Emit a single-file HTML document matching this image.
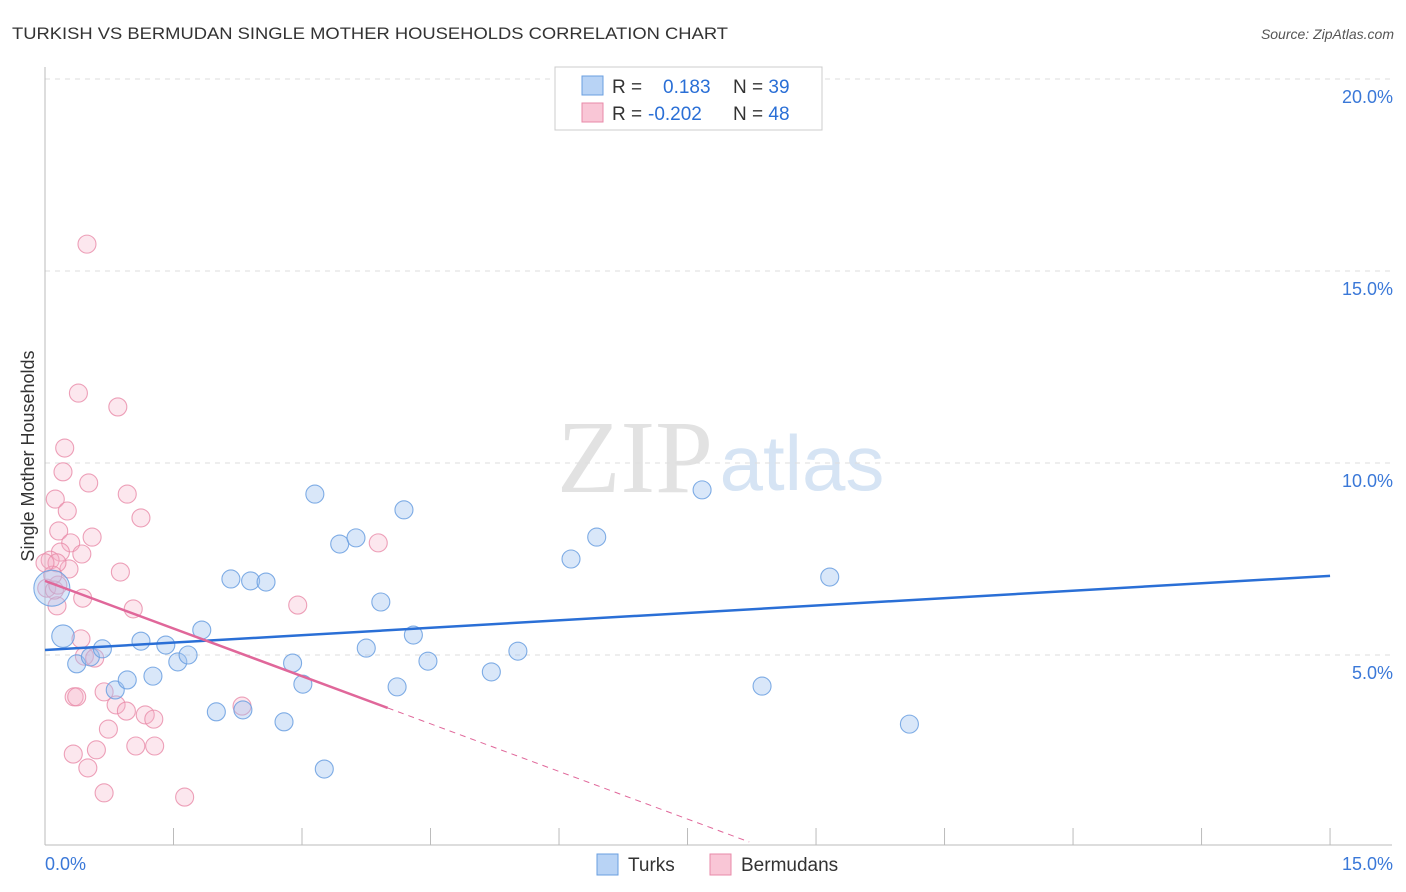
<!DOCTYPE html>
<html><head><meta charset="utf-8"><style>
body{margin:0;background:#fff;font-family:"Liberation Sans",sans-serif;}
svg{display:block}
</style></head><body>
<svg id="c" width="1406" height="892" xmlns="http://www.w3.org/2000/svg">
<text x="12" y="39" font-size="17" fill="#333" textLength="716" lengthAdjust="spacingAndGlyphs">TURKISH VS BERMUDAN SINGLE MOTHER HOUSEHOLDS CORRELATION CHART</text>
<text x="1394" y="39" font-size="14" fill="#555" font-style="italic" text-anchor="end">Source: ZipAtlas.com</text>
<text transform="translate(34,456) rotate(-90)" font-size="18" fill="#333" text-anchor="middle">Single Mother Households</text>
<g>
<text x="635" y="492" font-size="104" font-family="Liberation Serif,serif" fill="#e2e2e2" text-anchor="middle">ZIP</text>
<text x="802" y="490" font-size="78" fill="#d6e4f4" text-anchor="middle">atlas</text>
</g>
<g id="grid"></g>
<g id="axes"></g>
<g id="pts"></g>
<g id="trend"></g>
<g>
<rect x="555" y="67" width="267" height="63" fill="#fff" stroke="#ccc"/>
<rect x="582" y="76" width="21" height="19" fill="#b8d3f5" stroke="#6a9fe0"/>
<rect x="582" y="103" width="21" height="19" fill="#f9c6d6" stroke="#e88aa8"/>
<text x="612" y="93" font-size="19" fill="#333">R = <tspan x="663" fill="#2a6fd6">0.183</tspan><tspan x="733" fill="#333">N = </tspan><tspan fill="#2a6fd6">39</tspan></text>
<text x="612" y="120" font-size="19" fill="#333">R = <tspan x="648" fill="#2a6fd6">-0.202</tspan><tspan x="733" fill="#333">N = </tspan><tspan fill="#2a6fd6">48</tspan></text>
</g>
<g>
<rect x="597" y="854" width="21" height="21" fill="#b8d3f5" stroke="#6a9fe0"/>
<text x="628" y="871" font-size="19" fill="#333">Turks</text>
<rect x="710" y="854" width="21" height="21" fill="#f9c6d6" stroke="#e88aa8"/>
<text x="741" y="871" font-size="19" fill="#333">Bermudans</text>
</g>
</svg>
<script>
const xTicks=[0,1.5,3,4.5,6,7.5,9,10.5,12,13.5,15];
const yTicks=[5,10,15,20];
const yTickLabels=["5.0%","10.0%","15.0%","20.0%"];
const turksX=[0.08,0.21,0.37,0.53,0.67,0.82,0.96,1.12,1.26,1.41,1.55,1.67,1.83,2.00,2.17,2.31,2.40,2.58,2.79,2.89,3.01,3.15,3.26,3.44,3.63,3.75,3.92,4.11,4.19,4.30,4.47,5.21,5.52,6.14,6.44,7.67,8.37,9.16,10.09];
const turksY=[6.74,5.49,4.77,4.95,5.16,4.09,4.35,5.36,4.45,5.26,4.82,5.00,5.65,3.52,6.98,3.57,6.93,6.90,3.26,4.79,4.24,9.19,2.03,7.89,8.05,5.18,6.38,4.17,8.78,5.52,4.84,4.56,5.10,7.50,8.07,9.30,4.19,7.03,3.20];
const turksSize=[2,1.25,1,1,1,1,1,1,1,1,1,1,1,1,1,1,1,1,1,1,1,1,1,1,1,1,1,1,1,1,1,1,1,1,1,1,1,1,1];
const bermX=[0.49,0.39,0.85,0.23,0.21,0.51,0.96,0.12,0.26,1.12,0.16,0.55,0.30,0.18,0.43,0.88,0.28,0.06,0.14,0.02,0.44,0.14,1.03,2.95,3.89,0.42,0.46,0.58,0.69,0.34,0.37,0.83,0.95,1.17,1.27,0.74,0.33,0.60,1.06,1.28,0.50,0.69,1.63,2.30,0.11,0.15,0.09,0.00];
const bermY=[15.70,11.82,11.46,10.39,9.77,9.48,9.19,9.06,8.75,8.57,8.23,8.07,7.92,7.68,7.63,7.16,7.24,7.47,7.40,6.74,6.48,6.28,6.20,6.30,7.92,5.42,4.97,4.92,4.04,3.91,3.91,3.70,3.54,3.44,3.33,3.07,2.42,2.53,2.63,2.63,2.06,1.41,1.30,3.67,6.69,6.82,7.08,7.40];
const turksTrend=[5.13,7.06];
const bermTrend=[6.93,-0.827];
const bermSolidEnd=4.0, bermDashEnd=8.22;

const NS="http://www.w3.org/2000/svg";
const X=v=>45+v*85.67, Y=v=>847-v*38.4;
function mk(tag,attrs,parent){const e=document.createElementNS(NS,tag);for(const k in attrs)e.setAttribute(k,attrs[k]);document.getElementById(parent).appendChild(e);return e;}
yTicks.forEach((t,i)=>{
 const l=mk('line',{x1:45,x2:1392,y1:Y(t),y2:Y(t),stroke:'#ddd','stroke-dasharray':'5,5'},'grid');
 
 
 const tx=mk('text',{x:1393,y:Y(t)+24,'font-size':18,fill:'#3a78d8','text-anchor':'end'},'grid');
 tx.textContent=yTickLabels[i];
 
 
});
const ya=mk('line',{x1:45,x2:45,y1:67,y2:845,stroke:'#bbb'},'axes');


const xa=mk('line',{x1:45,x2:1392,y1:845,y2:845,stroke:'#bbb'},'axes');


xTicks.forEach(t=>{const l=mk('line',{x1:X(t),x2:X(t),y1:828,y2:845,stroke:'#bbb'},'axes');
 
 });
const xl0=mk('text',{x:45,y:870,'font-size':18,fill:'#3a78d8'},'axes');xl0.textContent='0.0%';


const xl1=mk('text',{x:1393,y:870,'font-size':18,fill:'#3a78d8','text-anchor':'end'},'axes');xl1.textContent='15.0%';


bermX.forEach((v,i)=>{const c=mk('circle',{cx:X(v),cy:Y(bermY[i]),r:9,fill:'rgba(246,175,198,0.3)',stroke:'rgba(232,138,168,0.8)','stroke-width':1.1},'pts');
 
 });
turksX.forEach((v,i)=>{const c=mk('circle',{cx:X(v),cy:Y(turksY[i]),r:9*turksSize[i],fill:'rgba(160,196,240,0.4)',stroke:'rgba(106,159,224,0.85)','stroke-width':1.1},'pts');
 
 });
const tl=mk('line',{x1:X(0),y1:Y(turksTrend[0]),x2:X(15),y2:Y(turksTrend[1]),stroke:'#2a6fd6','stroke-width':2.5},'trend');


const bl=mk('line',{x1:X(0),y1:Y(bermTrend[0]),x2:X(bermSolidEnd),y2:Y(bermTrend[0]+bermTrend[1]*bermSolidEnd),stroke:'#e0679a','stroke-width':2.5},'trend');


const bd=mk('line',{x1:X(bermSolidEnd),y1:Y(bermTrend[0]+bermTrend[1]*bermSolidEnd),x2:X(bermDashEnd),y2:Y(bermTrend[0]+bermTrend[1]*bermDashEnd),stroke:'#e0679a','stroke-width':1,'stroke-dasharray':'6,5'},'trend');


</script>
</body></html>
